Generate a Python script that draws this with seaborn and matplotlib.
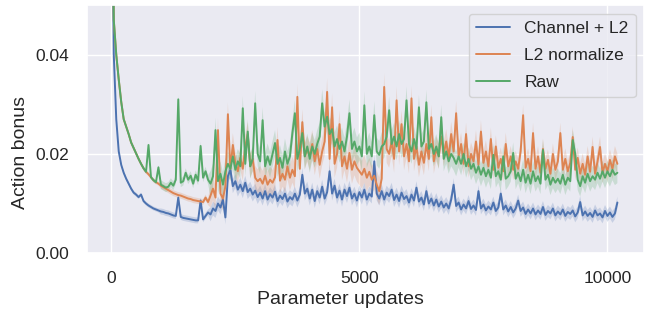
import numpy as np
import pandas as pd
import matplotlib
matplotlib.use("Agg")
import matplotlib.pyplot as plt
import seaborn as sns

# x axis: parameter updates, logged every 50 updates
updates = np.arange(0, 10201, 50)

# action bonus values, in units of 1e-3 (one row = 1000 updates)
channel_l2 = [
    90, 40, 27, 20.5, 17.8, 16.2, 15.0, 14.0, 13.0, 12.2, 11.8, 11.3, 11.8, 10.5, 10.0, 9.6, 9.3, 9.0, 8.8, 8.6,
    8.4, 8.3, 8.1, 8.0, 7.8, 7.6, 7.5, 11.2, 7.3, 7.1, 7.0, 6.9, 6.8, 6.7, 6.6, 6.6, 10.6, 6.8, 7.5, 8.2,
    7.8, 9.0, 8.5, 10.0, 9.2, 10.8, 7.2, 15.5, 16.8, 13.5, 14.5, 12.8, 13.8, 12.5, 14.2, 12.3, 13.0, 11.8, 12.6, 11.3,
    12.2, 11.0, 12.5, 10.8, 11.9, 11.2, 12.4, 10.5, 11.6, 10.9, 12.0, 10.4, 11.3, 10.8, 12.0, 10.6, 11.8, 15.8, 12.0, 13.0,
    11.0, 12.8, 10.5, 12.5, 11.2, 13.4, 11.0, 12.3, 16.5, 12.0, 13.6, 11.2, 12.6, 10.8, 12.8, 11.5, 13.2, 11.0, 12.0, 10.6,
    12.3, 11.2, 12.8, 10.8, 12.0, 11.4, 18.5, 12.0, 11.0, 12.5, 10.8, 12.2, 11.5, 12.8, 10.7, 11.8, 10.5, 12.2, 10.9, 11.5,
    10.2, 11.8, 10.6, 13.2, 10.4, 11.2, 9.8, 12.5, 10.0, 11.0, 9.6, 10.8, 9.4, 10.4, 9.2, 10.0, 9.0, 10.8, 13.8, 9.5,
    10.2, 8.8, 9.8, 9.0, 10.5, 8.9, 9.6, 8.7, 12.5, 9.0, 9.8, 8.6, 9.4, 8.8, 10.2, 8.5, 9.2, 12.0, 8.8, 9.6,
    8.4, 9.3, 8.2, 9.0, 10.6, 8.5, 9.2, 7.9, 8.8, 8.0, 9.0, 7.8, 8.6, 7.9, 9.3, 7.7, 8.5, 8.0, 9.0, 7.6,
    8.4, 7.8, 8.8, 7.5, 8.3, 7.9, 8.6, 7.4, 8.2, 10.3, 7.6, 8.4, 7.5, 8.1, 7.3, 8.6, 7.6, 8.0, 7.2, 8.5,
    7.5, 8.2, 7.3, 8.0, 10.2,
]

l2_normalize = [
    90, 47, 40, 35, 30.5, 27, 25.5, 24, 22.3, 21.2, 20.1, 19.0, 18.0, 17.1, 16.4, 15.9, 15.3, 14.7, 14.3, 14.0,
    13.6, 13.3, 13.0, 12.7, 12.4, 12.1, 11.9, 11.7, 11.6, 11.4, 11.2, 11.0, 10.9, 10.7, 10.6, 10.5, 10.4, 10.3, 11.2, 10.3,
    11.6, 13.0, 11.2, 24.8, 12.0, 11.0, 13.5, 28.0, 17.0, 21.8, 18.0, 16.5, 19.2, 17.0, 21.5, 24.0, 17.5, 19.0, 15.2, 14.5,
    15.0, 14.0, 15.6, 13.8, 14.8, 14.2, 15.3, 22.8, 14.6, 16.0, 14.8, 17.5, 15.2, 16.8, 15.5, 31.5, 17.0, 26.4, 19.5, 21.0,
    19.5, 22.0, 18.5, 21.0, 17.8, 20.5, 22.5, 32.5, 19.0, 29.4, 18.0, 20.0, 26.0, 17.5, 19.5, 17.0, 20.2, 16.8, 18.5, 17.2,
    16.5, 15.8, 17.0, 15.2, 16.4, 14.8, 15.6, 13.8, 12.5, 15.0, 33.5, 21.0, 20.0, 22.5, 19.0, 30.8, 20.5, 26.0, 19.5, 22.0,
    18.5, 31.2, 19.0, 21.5, 17.8, 20.5, 18.2, 22.0, 19.0, 27.4, 18.5, 21.0, 19.5, 23.5, 20.0, 22.5, 19.2, 24.0, 20.5, 28.2,
    19.5, 22.0, 18.0, 24.0, 17.5, 20.0, 18.5, 22.5, 17.8, 24.5, 18.2, 20.5, 17.5, 23.0, 16.8, 21.5, 17.2, 19.0, 16.5, 22.0,
    17.5, 19.5, 16.8, 18.5, 17.0, 20.5, 27.8, 17.2, 19.0, 16.5, 24.2, 17.0, 19.5, 16.2, 21.0, 17.0, 18.8, 16.0, 20.0, 16.8,
    18.5, 24.2, 16.8, 19.0, 16.5, 18.2, 23.4, 16.8, 19.2, 16.0, 18.0, 15.8, 19.5, 16.4, 21.4, 16.0, 18.5, 21.4, 16.2, 18.0,
    16.5, 18.8, 17.0, 19.5, 18.0,
]

raw = [
    90, 47, 40, 35, 30.5, 27, 25.5, 24, 22.3, 21.2, 20.1, 19.0, 18.0, 17.1, 16.4, 21.8, 15.3, 14.7, 14.3, 17.3,
    13.8, 13.5, 13.2, 13.4, 14.2, 13.6, 14.8, 31.0, 14.2, 14.5, 16.2, 14.8, 15.6, 14.0, 15.8, 14.6, 21.6, 15.2, 16.5, 14.8,
    14.0, 15.5, 24.8, 14.5, 16.0, 13.8, 16.5, 18.0, 17.0, 19.5, 16.8, 18.5, 17.5, 29.2, 18.0, 24.5, 17.5, 19.0, 30.2, 20.0,
    18.5, 26.8, 17.5, 19.5, 17.8, 20.0, 22.2, 18.0, 19.2, 17.2, 20.5, 18.0, 19.5, 24.2, 28.2, 19.0, 21.0, 24.2, 19.5, 21.5,
    19.0, 21.5, 20.0, 22.0, 23.5, 30.2, 25.5, 27.5, 24.0, 25.0, 21.5, 23.0, 21.0, 22.5, 20.5, 23.5, 28.2, 21.0, 22.5, 20.5,
    21.5, 19.5, 29.8, 20.0, 21.5, 19.5, 27.8, 20.5, 19.8, 21.5, 22.0, 23.5, 28.8, 22.0, 23.5, 21.5, 24.0, 22.0, 23.0, 30.8,
    22.0, 20.5, 23.0, 21.0, 29.4, 21.5, 22.5, 30.4, 21.0, 22.0, 20.0, 21.5, 19.5, 27.4, 19.0, 20.5, 18.5, 20.0, 19.2, 18.0,
    19.5, 18.0, 20.0, 17.5, 19.0, 17.0, 18.0, 16.2, 17.5, 15.8, 17.2, 15.5, 16.8, 15.2, 19.8, 15.5, 16.5, 14.8, 19.5, 15.0,
    15.5, 16.5, 20.2, 15.0, 16.2, 14.5, 16.8, 14.2, 15.8, 14.0, 16.5, 14.5, 15.5, 14.0, 20.8, 14.8, 15.8, 13.8, 15.2, 14.2,
    15.0, 14.0, 15.8, 13.8, 15.2, 14.5, 22.8, 20.0, 14.8, 13.5, 15.5, 14.2, 16.0, 14.5, 15.5, 14.8, 16.2, 15.0, 16.5, 15.2,
    16.5, 15.5, 16.8, 15.8, 16.2,
]

# half width of the shaded band (1e-3), one value per 1000 updates
spread_channel = [0.4, 0.6, 1.4, 1.4, 1.4, 1.4, 1.3, 1.2, 1.2, 1.2, 1.2]
spread_l2 = [0.4, 0.6, 2.4, 2.6, 2.8, 2.8, 2.5, 2.3, 2.1, 2.1, 2.1]
spread_raw = [0.4, 0.9, 2.5, 2.6, 2.8, 2.8, 2.5, 2.3, 2.1, 2.1, 2.1]

methods = ["Channel + L2", "L2 normalize", "Raw"]
series = [channel_l2, l2_normalize, raw]
spreads = [spread_channel, spread_l2, spread_raw]
colors = sns.color_palette("deep")[:3]

sns.set_theme(style="darkgrid")
plt.rcParams['font.family'] = ['Liberation Sans', 'DejaVu Sans']

frames = []
for name, vals in zip(methods, series):
    frames.append(pd.DataFrame({"update": updates, "bonus": np.array(vals) / 1000, "method": name}))
df = pd.concat(frames, ignore_index=True)

fig = plt.figure(figsize=(6.54, 3.18), dpi=100)
ax = fig.add_axes([0.133, 0.204, 0.852, 0.780])

reps = [20] * 10 + [5]
for name, vals, sp, c in zip(methods, series, spreads, colors):
    s = np.repeat(sp, reps) / 1000
    m = np.array(vals) / 1000
    ax.fill_between(updates, m - s, m + s, color=c, alpha=0.22, linewidth=0)

sns.lineplot(data=df, x="update", y="bonus", hue="method", palette=colors,
             linewidth=1.4, errorbar=None, ax=ax)

ax.set_ylim(0, 0.05)
ax.set_xlim(-490, 10740)
ax.set_xticks([0, 5000, 10000])
ax.set_yticks([0.0, 0.02, 0.04])
ax.set_yticklabels(["0.00", "0.02", "0.04"])
ax.tick_params(labelsize=12.5, pad=7)
ax.set_xlabel("Parameter updates", fontsize=14)
ax.set_ylabel("Action bonus", fontsize=14)
ax.xaxis.set_label_coords(0.454, -0.153)
ax.yaxis.set_label_coords(-0.104, 0.407)
sns.move_legend(ax, "upper right", title=None, fontsize=12.5, labelspacing=0.7)

fig.savefig("out.png", dpi=100)
